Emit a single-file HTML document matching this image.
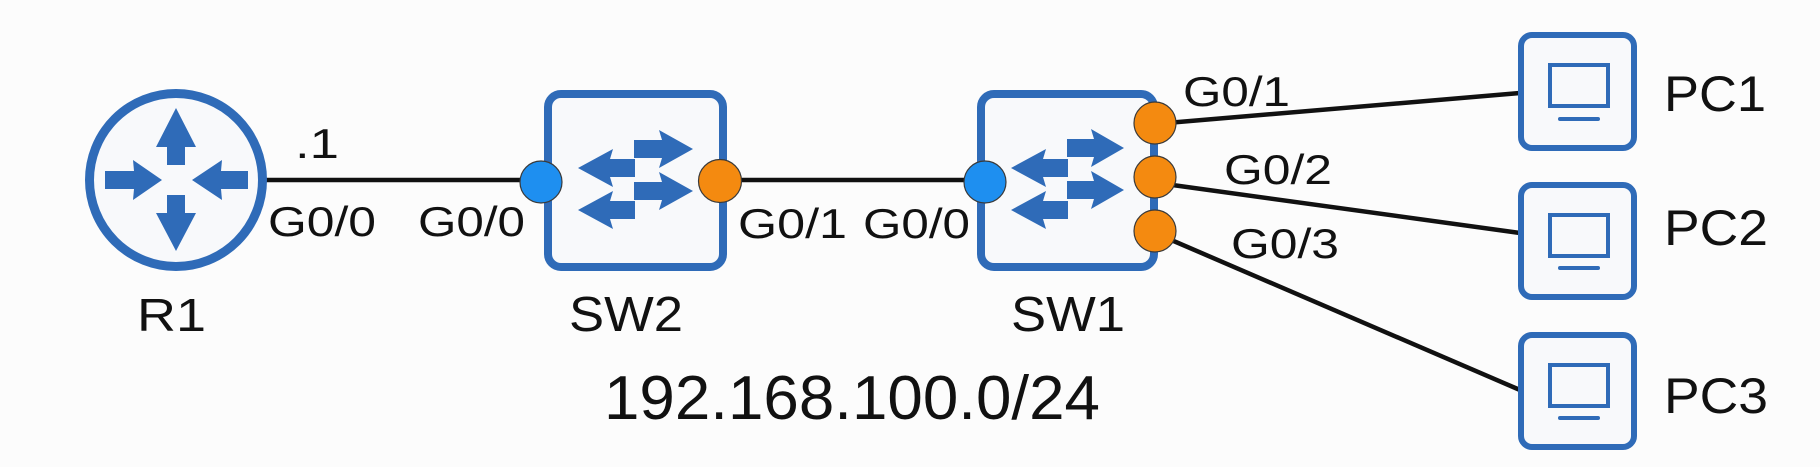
<!DOCTYPE html>
<html>
<head>
<meta charset="utf-8">
<style>
  html, body { margin: 0; padding: 0; background: #fcfcfc; }
  svg { display: block; }
  text { font-family: "Liberation Sans", Arial, sans-serif; fill: #111; }
</style>
</head>
<body>
<svg width="1820" height="467" viewBox="0 0 1820 467" xmlns="http://www.w3.org/2000/svg">
  <rect x="0" y="0" width="1820" height="467" fill="#fcfcfc"/>

  <!-- connectors -->
  <g stroke="#111" stroke-width="4.5" fill="none">
    <line x1="262" y1="180" x2="541" y2="180"/>
    <line x1="720" y1="180" x2="985" y2="180"/>
    <line x1="1155" y1="124" x2="1520" y2="93"/>
    <line x1="1158" y1="183" x2="1520" y2="233"/>
    <line x1="1155" y1="233" x2="1520" y2="390"/>
  </g>

  <!-- Router R1 -->
  <circle cx="176" cy="180" r="86.5" fill="#f8f9fb" stroke="#2f6bb8" stroke-width="9"/>
  <g fill="#2f6bb8">
    <polygon points="167,165 167,147 156,147 176,108 196,147 185,147 185,165"/>
    <polygon points="167,195 185,195 185,213 196,213 176,251 156,213 167,213"/>
    <polygon points="105,171 134,171 133,160 162,180 133,200 134,189 105,189"/>
    <polygon points="248,171 221,171 222,160 192,180 222,200 221,189 248,189"/>
  </g>

  <!-- Switch SW2 -->
  <rect x="548" y="94" width="175" height="173" rx="13" ry="13" fill="#f8f9fb" stroke="#2f6bb8" stroke-width="8"/>
  <g fill="#2f6bb8">
    <polygon points="634,140 662,140 659,130 693,149 659,168 662,158 634,158"/>
    <polygon points="634,182 662,182 659,172 693,191 659,210 662,200 634,200"/>
    <polygon points="635,159 610,159 613,149 578,168 613,187 610,177 635,177"/>
    <polygon points="635,201 610,201 613,191 578,210 613,229 610,219 635,219"/>
  </g>

  <!-- Switch SW1 -->
  <rect x="981" y="94" width="173" height="173" rx="13" ry="13" fill="#f8f9fb" stroke="#2f6bb8" stroke-width="8"/>
  <g fill="#2f6bb8">
    <polygon points="1067,139 1094,139 1091,129 1124,148 1091,167 1094,157 1067,157"/>
    <polygon points="1067,181 1094,181 1091,171 1124,190 1091,209 1094,199 1067,199"/>
    <polygon points="1068,159 1043,159 1046,149 1011,168 1046,187 1043,177 1068,177"/>
    <polygon points="1068,201 1043,201 1046,191 1011,210 1046,229 1043,219 1068,219"/>
  </g>

  <!-- port dots -->
  <g stroke="#3a3a3a" stroke-width="1.2">
    <circle cx="541" cy="182" r="21" fill="#1e8ff0"/>
    <circle cx="720" cy="181" r="21.5" fill="#f48a10"/>
    <circle cx="985" cy="182" r="21" fill="#1e8ff0"/>
    <circle cx="1155" cy="123" r="21" fill="#f48a10"/>
    <circle cx="1155" cy="177" r="21" fill="#f48a10"/>
    <circle cx="1155" cy="231" r="21" fill="#f48a10"/>
  </g>

  <!-- PCs -->
  <g fill="#f8f9fb" stroke="#2f6bb8" stroke-width="6">
    <rect x="1521" y="35" width="113" height="113" rx="11" ry="11"/>
    <rect x="1521" y="185" width="113" height="112" rx="11" ry="11"/>
    <rect x="1521" y="335" width="113" height="112" rx="11" ry="11"/>
  </g>
  <g fill="none" stroke="#2f6bb8" stroke-width="4" stroke-linecap="round">
    <rect x="1550" y="65" width="58" height="41"/>
    <line x1="1560" y1="119" x2="1598" y2="119"/>
    <rect x="1550" y="215" width="58" height="41"/>
    <line x1="1560" y1="268" x2="1598" y2="268"/>
    <rect x="1550" y="365" width="58" height="41"/>
    <line x1="1560" y1="418" x2="1598" y2="418"/>
  </g>

  <!-- port labels -->
  <g font-size="42">
    <text x="295" y="158" textLength="44" lengthAdjust="spacingAndGlyphs">.1</text>
    <text x="268" y="236" textLength="108" lengthAdjust="spacingAndGlyphs">G0/0</text>
    <text x="418" y="236" textLength="107" lengthAdjust="spacingAndGlyphs">G0/0</text>
    <text x="738" y="238" textLength="109" lengthAdjust="spacingAndGlyphs">G0/1</text>
    <text x="863" y="238" textLength="107" lengthAdjust="spacingAndGlyphs">G0/0</text>
    <text x="1183" y="106" textLength="107" lengthAdjust="spacingAndGlyphs">G0/1</text>
    <text x="1224" y="184" textLength="108" lengthAdjust="spacingAndGlyphs">G0/2</text>
    <text x="1231" y="258" textLength="108" lengthAdjust="spacingAndGlyphs">G0/3</text>
  </g>

  <!-- device labels -->
  <text x="137" y="331" font-size="46" textLength="69" lengthAdjust="spacingAndGlyphs">R1</text>
  <text x="569" y="331" font-size="49" textLength="114" lengthAdjust="spacingAndGlyphs">SW2</text>
  <text x="1011" y="331" font-size="49" textLength="114" lengthAdjust="spacingAndGlyphs">SW1</text>
  <text x="1664" y="111" font-size="50" textLength="102" lengthAdjust="spacingAndGlyphs">PC1</text>
  <text x="1664" y="245" font-size="50" textLength="104" lengthAdjust="spacingAndGlyphs">PC2</text>
  <text x="1664" y="413" font-size="50" textLength="104" lengthAdjust="spacingAndGlyphs">PC3</text>

  <!-- subnet label -->
  <text x="604" y="419" font-size="62" textLength="496" lengthAdjust="spacingAndGlyphs">192.168.100.0/24</text>
</svg>
</body>
</html>
